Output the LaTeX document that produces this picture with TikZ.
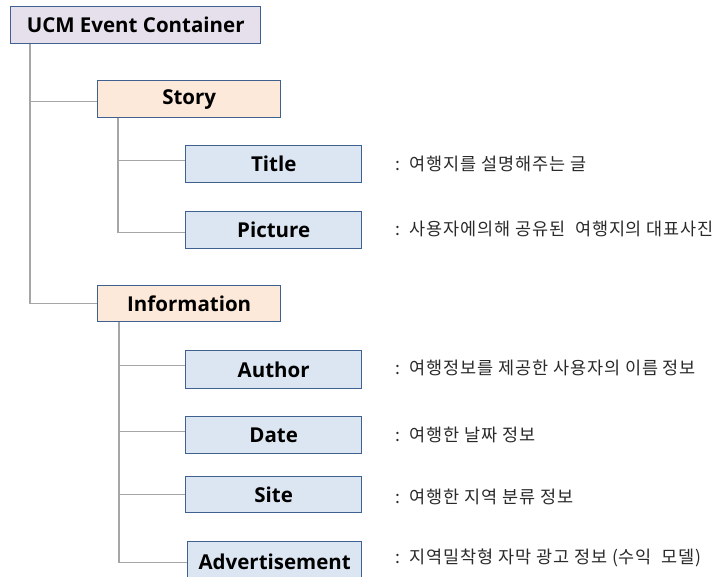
\documentclass[tikz,border=0pt]{standalone}
\usepackage{fontspec}
\setmainfont{Open Sans}
\newfontfamily\kr{Noto Sans CJK KR}[LetterSpace=5]
\definecolor{bordc}{HTML}{3F6190}
\definecolor{lavc}{HTML}{E6E0EC}
\definecolor{peachc}{HTML}{FDE9D9}
\definecolor{bluc}{HTML}{DCE6F2}
\definecolor{linec}{HTML}{A6A6A6}
\definecolor{txtc}{HTML}{2A2A2A}
\begin{document}
\begin{tikzpicture}[x=1pt,y=-1pt,
  box/.style={draw=bordc, line width=1.4pt, anchor=north west, inner sep=0pt,
    minimum height=37pt, font=\bfseries\fontsize{20.5}{22}\selectfont, text=black},
  conn/.style={draw=linec, line width=1.3pt},
  desc/.style={anchor=west, inner sep=0pt, font=\kr\fontsize{17.5}{19}\selectfont, text=txtc}]
\useasboundingbox (0,0) rectangle (717,577);
\clip (0,0) rectangle (717,577);
\node[box, fill=lavc, minimum width=250pt] (ucm) at (10,6) {UCM Event Container};
\node[box, fill=peachc, minimum width=183pt] (story) at (97,80) {Story};
\node[box, fill=bluc, minimum width=176pt] (title) at (185,145) {Title};
\node[box, fill=bluc, minimum width=176pt] (picture) at (185,211) {Picture};
\node[box, fill=peachc, minimum width=183pt, minimum height=36pt] (info) at (97,285) {Information};
\node[box, fill=bluc, minimum width=176pt, minimum height=38pt] (author) at (185,350) {Author};
\node[box, fill=bluc, minimum width=176pt] (date) at (185,416) {Date};
\node[box, fill=bluc, minimum width=176pt, minimum height=36pt] (site) at (185,476) {Site};
\node[box, fill=bluc, minimum width=174pt, minimum height=40pt] (ad) at (187,541) {Advertisement};

\coordinate (t0) at (30,0);
\coordinate (t1) at (118,0);
\coordinate (t2) at (119,0);
\draw[conn] (ucm.south -| t0) -- (info.west -| t0) -- (info.west);
\draw[conn] ([yshift=-2]story.west -| t0) -- ([yshift=-2]story.west);
\draw[conn] (story.south -| t1) -- ([yshift=-2]picture.west -| t1) -- ([yshift=-2]picture.west);
\draw[conn] ([yshift=4]title.west -| t1) -- ([yshift=4]title.west);
\draw[conn] (info.south -| t2) -- ([yshift=-1]ad.west -| t2) -- ([yshift=-1]ad.west);
\draw[conn] ([yshift=4]author.west -| t2) -- ([yshift=4]author.west);
\draw[conn] ([yshift=4]date.west -| t2) -- ([yshift=4]date.west);
\draw[conn] (site.west -| t2) -- (site.west);

\node[desc] (d1) at (395,164) {:\ \ 여행지를 설명해주는 글};
\node[desc] (d2) at (395,229) {:\ \ 사용자에의해 공유된\ \ 여행지의 대표사진};
\node[desc] (d3) at (395,368) {:\ \ 여행정보를 제공한 사용자의 이름 정보};
\node[desc] (d4) at (395,435) {:\ \ 여행한 날짜 정보};
\node[desc] (d5) at (395,497) {:\ \ 여행한 지역 분류 정보};
\node[desc] (d6) at (395,558) {:\ \ 지역밀착형 자막 광고 정보 (수익\ \ 모델)};
\end{tikzpicture}
\end{document}
